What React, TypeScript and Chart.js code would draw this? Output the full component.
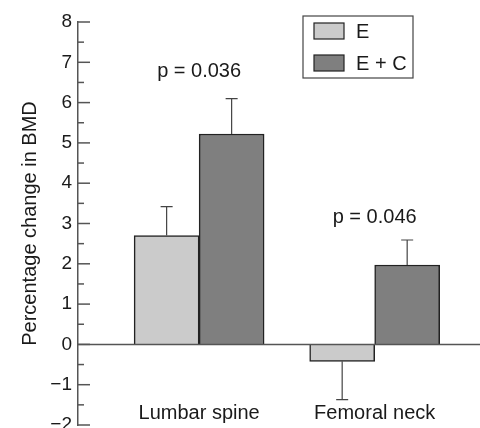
import React, { useEffect, useRef } from "react";
import { Chart, registerables } from "chart.js";

Chart.register(...registerables);

const categories = ["Lumbar spine", "Femoral neck"];
const seriesNames = ["E", "E + C"];
const valuesE = [2.7, -0.42];
const valuesEC = [5.22, 1.97];
const errE = [0.72, 0.95];
const errEC = [0.88, 0.62];
const pLabels = ["p = 0.036", "p = 0.046"];
const pLabelY = [6.76, 3.16];
const yTicks = [-2, -1, 0, 1, 2, 3, 4, 5, 6, 7, 8];

const FONT = "'Liberation Sans', Arial, Helvetica, sans-serif";
const FS = 20;
const errors = [errE, errEC];

const customPlugin = {
  id: "custom",
  afterDatasetsDraw(chart: any) {
    const ctx = chart.ctx;
    const y = chart.scales.y;
    const x = chart.scales.x;
    const area = chart.chartArea;
    ctx.save();
    // error bars
    chart.data.datasets.forEach((ds: any, di: number) => {
      const meta = chart.getDatasetMeta(di);
      meta.data.forEach((el: any, i: number) => {
        const v = ds.data[i].y;
        const e = errors[di][i];
        const end = v >= 0 ? v + e : v - e;
        const py0 = y.getPixelForValue(v);
        const py1 = y.getPixelForValue(end);
        ctx.strokeStyle = "#444";
        ctx.lineWidth = 1.2;
        ctx.beginPath();
        ctx.moveTo(el.x, py0);
        ctx.lineTo(el.x, py1);
        ctx.moveTo(el.x - 6, py1);
        ctx.lineTo(el.x + 6, py1);
        ctx.stroke();
      });
    });
    // zero line
    const z = y.getPixelForValue(0);
    ctx.strokeStyle = "#555";
    ctx.lineWidth = 1.5;
    ctx.beginPath();
    ctx.moveTo(area.left, z);
    ctx.lineTo(chart.width, z);
    ctx.stroke();
    // inward ticks
    ctx.lineWidth = 1.5;
    for (let v = -2; v <= 8.001; v += 0.5) {
      const py = y.getPixelForValue(v);
      const len = Math.abs(v - Math.round(v)) < 0.01 ? 12 : 6;
      ctx.beginPath();
      ctx.moveTo(area.left, py);
      ctx.lineTo(area.left + len, py);
      ctx.stroke();
    }
    // text
    ctx.fillStyle = "#1a1a1a";
    ctx.font = `${FS}px ${FONT}`;
    ctx.textAlign = "center";
    ctx.textBaseline = "middle";
    categories.forEach((c, i) => {
      const px = x.getPixelForValue(i + 1);
      ctx.fillText(c, px, area.bottom - 12);
      ctx.fillText(pLabels[i], px, y.getPixelForValue(pLabelY[i]));
    });
    // legend
    const lx = 303, ly = 16, lw = 110, lh = 62;
    ctx.fillStyle = "#fff";
    ctx.fillRect(lx, ly, lw, lh);
    ctx.strokeStyle = "#444";
    ctx.lineWidth = 1.2;
    ctx.strokeRect(lx, ly, lw, lh);
    chart.data.datasets.forEach((ds: any, di: number) => {
      const sy = ly + 7 + di * 32;
      ctx.fillStyle = ds.backgroundColor;
      ctx.fillRect(lx + 11, sy, 30, 16);
      ctx.strokeStyle = "#222";
      ctx.lineWidth = 1.2;
      ctx.strokeRect(lx + 11, sy, 30, 16);
      ctx.fillStyle = "#1a1a1a";
      ctx.textAlign = "left";
      ctx.fillText(ds.label, lx + 53, sy + 9);
    });
    ctx.restore();
  },
};

export default function App() {
  const ref = useRef<HTMLCanvasElement>(null);
  useEffect(() => {
    document.body.style.margin = "0";
    const colors = ["#cbcbcb", "#7f7f7f"];
    const vals = [valuesE, valuesEC];
    const chart = new Chart(ref.current as HTMLCanvasElement, {
      type: "bar",
      data: {
        datasets: seriesNames.map((n, di) => ({
          label: n,
          data: vals[di].map((v, i) => ({ x: i + 1, y: v })),
          backgroundColor: colors[di],
          borderColor: "#222",
          borderWidth: 1.5,
          barThickness: 65,
        })),
      },
      options: {
        animation: false,
        responsive: false,
        layout: { padding: { top: 22, bottom: 3, left: 0, right: 0 } },
        plugins: { legend: { display: false }, tooltip: { enabled: false } },
        scales: {
          x: { type: "linear", min: 0.31, max: 2.6, display: false, offset: false },
          y: {
            min: -2,
            max: 8,
            afterBuildTicks: (s: any) => {
              s.ticks = yTicks.map((v) => ({ value: v }));
            },
            afterFit: (s: any) => {
              s.width = 78;
              s.paddingTop = 0;
              s.paddingBottom = 0;
            },
            ticks: {
              color: "#1a1a1a",
              font: { family: FONT, size: 19 },
              padding: 6,
              callback: (v: any) => (v < 0 ? "\u2212" + Math.abs(v) : String(v)),
            },
            grid: { display: false, drawTicks: false },
            border: { display: true, color: "#555", width: 1.5 },
            title: {
              display: true,
              text: "Percentage change in BMD",
              color: "#1a1a1a",
              font: { family: FONT, size: FS },
              padding: { top: 18, bottom: 0 },
            },
          },
        },
      },
      plugins: [customPlugin],
    });
    return () => chart.destroy();
  }, []);
  return (
    <div style={{ width: 480, height: 428 }}>
      <canvas ref={ref} width={480} height={428} />
    </div>
  );
}
